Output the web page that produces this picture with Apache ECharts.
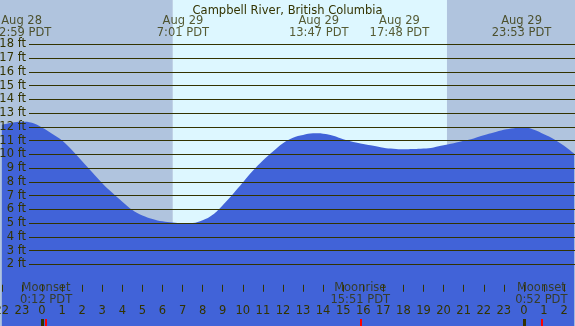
<!DOCTYPE html>
<html>
<head>
<meta charset="utf-8">
<title>Campbell River tide</title>
<script src="https://cdn.jsdelivr.net/npm/echarts@6/dist/echarts.min.js"></script>
<style>
html, body { margin: 0; padding: 0; }
#chart { width: 575px; height: 326px; }
</style>
</head>
<body>
<div id="chart"></div>
<script>
// tide height (ft), hours counted from Aug 29 0:00
var tideHours = [-2, -1.5, -1, -0.5, 0, 0.5, 1, 1.5, 2, 2.5, 3, 3.5, 4, 4.5, 5, 5.5, 6, 6.5, 7, 7.5,
  8, 8.5, 9, 9.5, 10, 10.5, 11, 11.5, 12, 12.5, 13, 13.5, 14, 14.5, 15, 15.5, 16, 16.5, 17, 17.5,
  18, 18.5, 19, 19.5, 20, 20.5, 21, 21.5, 22, 22.5, 23, 23.5, 24, 24.5, 25, 25.5, 26, 26.5]
var tideFeet = [12.15, 12.3, 12.37, 12.3, 11.95, 11.5, 11.0, 10.3, 9.5, 8.7, 7.9, 7.2, 6.55, 5.95, 5.55, 5.3, 5.12, 5.03, 4.98, 5.0,
  5.2, 5.6, 6.3, 7.1, 7.95, 8.8, 9.55, 10.2, 10.8, 11.2, 11.4, 11.52, 11.5, 11.35, 11.1, 10.9, 10.75, 10.62, 10.48, 10.4,
  10.36, 10.38, 10.42, 10.5, 10.65, 10.8, 10.98, 11.15, 11.38, 11.58, 11.78, 11.9, 11.96, 11.78, 11.45, 11.1, 10.62, 10.05]

// high / low tide labels
var eventDates = ['Aug 28', 'Aug 29', 'Aug 29', 'Aug 29', 'Aug 29']
var eventTimes = ['22:59', '7:01', '13:47', '17:48', '23:53']
var eventDayOffset = [-1, 0, 0, 0, 0]

// moon events
var moonNames = ['Moonset', 'Moonrise', 'Moonset']
var moonTimes = ['0:12', '15:51', '0:52']
var moonDayOffset = [0, 0, 1]

// daylight
var sunrise = '6:31'
var sunset = '20:10'

// hour ticks along the bottom
var hourTicks = [-2, -1, 0, 1, 2, 3, 4, 5, 6, 7, 8, 9, 10, 11, 12, 13, 14, 15, 16, 17, 18, 19, 20, 21, 22, 23, 24, 25, 26]
var midnightTicks = [0, 24]

var ftTicks = [2, 18] // labelled range of the grid lines

var XMIN = -2.092, XMAX = 26.544
var YMIN = -2.49, YMAX = 21.22
var TXT = '#333300'
var FONT = 'DejaVu Sans'
var FS = 11.5

function toHour(t, dayOff) {
  var p = t.split(':')
  return Number(p[0]) + Number(p[1]) / 60 + 24 * dayOff
}

var tideData = tideHours.map(function (h, i) { return [h, tideFeet[i]] })
var eventData = eventTimes.map(function (t, i) {
  return { value: [toHour(t, eventDayOffset[i]), 19.27], name: eventDates[i] + '\n' + t + ' PDT' }
})
var moonHours = moonTimes.map(function (t, i) { return toHour(t, moonDayOffset[i]) })
var moonData = moonTimes.map(function (t, i) {
  return { value: [moonHours[i], -0.15], name: moonNames[i] + '\n' + t + ' PDT' }
})
var sr = toHour(sunrise, 0), ss = toHour(sunset, 0)

var chart = echarts.init(document.getElementById('chart'))

var tickAxis = function (values, color, width) {
  return {
    type: 'value', gridIndex: 0, min: XMIN, max: XMAX, position: 'bottom', z: 6,
    axisLine: { show: false }, splitLine: { show: false },
    axisLabel: { show: false },
    axisTick: { show: true, inside: true, length: 7, customValues: values, lineStyle: { color: color, width: width } }
  }
}

var option = {
  animation: false,
  textStyle: { fontFamily: FONT },
  title: {
    text: 'Campbell River, British Columbia',
    left: 'center', top: 0,
    textStyle: { fontFamily: FONT, fontSize: FS, fontWeight: 'normal', color: TXT }
  },
  grid: [
    { left: 0, right: 0, top: 0, bottom: 0, outerBoundsMode: 'none' },
    { left: 29, right: 0, top: 44.3, bottom: 61.7, outerBoundsMode: 'none' }
  ],
  xAxis: [
    {
      type: 'value', gridIndex: 0, min: XMIN, max: XMAX, position: 'bottom', z: 6,
      axisLine: { show: false }, splitLine: { show: false },
      axisTick: { show: true, inside: true, length: 7, customValues: hourTicks, lineStyle: { color: TXT, width: 1 } },
      axisLabel: {
        show: true, inside: true, margin: 9, customValues: hourTicks,
        color: TXT, fontFamily: FONT, fontSize: FS,
        formatter: function (v) { return String(((v % 24) + 24) % 24) }
      }
    },
    { type: 'value', gridIndex: 1, min: 0, max: 1, show: false },
    tickAxis(midnightTicks, TXT, 3),
    tickAxis(moonHours, '#ff0000', 2)
  ],
  yAxis: [
    { type: 'value', gridIndex: 0, min: YMIN, max: YMAX, show: false },
    {
      type: 'value', gridIndex: 1, min: ftTicks[0], max: ftTicks[1], interval: 1, z: 5,
      axisLine: { show: false }, axisTick: { show: false },
      splitLine: { show: true, lineStyle: { color: TXT, width: 1 } },
      axisLabel: { margin: 3, color: TXT, fontFamily: FONT, fontSize: FS, formatter: '{value} ft' }
    }
  ],
  series: [
    { // day / night background
      type: 'line', xAxisIndex: 0, yAxisIndex: 0, data: [], z: 1, silent: true,
      markArea: {
        silent: true,
        data: [
          [{ xAxis: XMIN, itemStyle: { color: '#b0c4de' } }, { xAxis: sr }],
          [{ xAxis: sr, itemStyle: { color: '#ddf7ff' } }, { xAxis: ss }],
          [{ xAxis: ss, itemStyle: { color: '#b0c4de' } }, { xAxis: XMAX }]
        ]
      }
    },
    { // tide curve
      type: 'line', xAxisIndex: 0, yAxisIndex: 0, data: tideData, z: 2,
      smooth: 0.4, showSymbol: false, silent: true,
      lineStyle: { width: 0 },
      areaStyle: { color: '#4163d8', opacity: 1, origin: 'start' }
    },
    { // tide event labels
      type: 'scatter', xAxisIndex: 0, yAxisIndex: 0, data: eventData, symbolSize: 0, z: 7, silent: true,
      label: {
        show: true, position: 'inside', formatter: '{b}', color: TXT,
        fontFamily: FONT, fontSize: FS, lineHeight: 12, align: 'center'
      }
    },
    { // moon labels
      type: 'scatter', xAxisIndex: 0, yAxisIndex: 0, data: moonData, symbolSize: 0, z: 7, silent: true,
      label: {
        show: true, position: 'inside', formatter: '{b}', color: TXT,
        fontFamily: FONT, fontSize: FS, lineHeight: 12, align: 'center'
      }
    }
  ]
}

chart.setOption(option)
</script>
</body>
</html>
